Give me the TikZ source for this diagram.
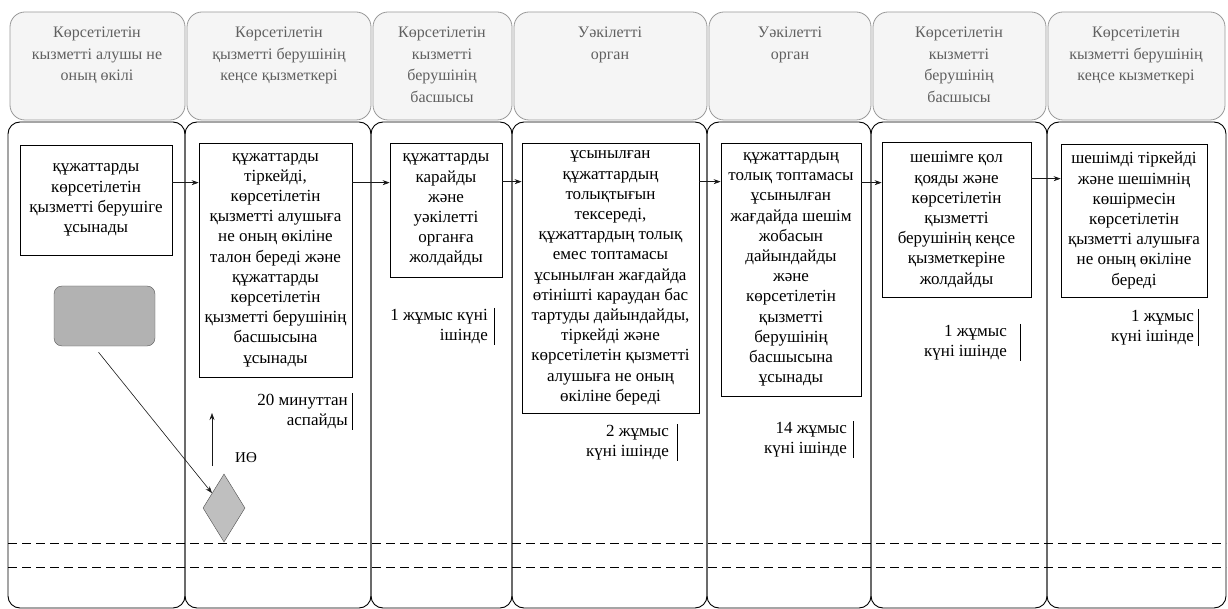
\documentclass[tikz,border=0pt]{standalone}
\usepackage{fontspec}
\setmainfont{Liberation Serif}
\usetikzlibrary{shapes.geometric,arrows.meta}

\tikzset{
  lane/.style={draw, rounded corners=12pt, line width=0.9pt},
  headbox/.style={draw=gray!80, fill=gray!8, rounded corners=15pt, line width=0.8pt},
  headtext/.style={align=center, text=gray!75!black, font=\fontsize{16}{21.5}\selectfont, anchor=north, inner sep=0pt},
  stepbox/.style={draw, line width=0.7pt, align=center, font=\fontsize{17}{20.2}\selectfont, inner sep=2pt},
  timenote/.style={align=right, font=\fontsize{17}{20}\selectfont, anchor=north east, inner sep=1pt},
  flow/.style={-{Stealth[length=7pt,width=5pt]}, line width=0.6pt, gray!20!black},
  sep/.style={dash pattern=on 9pt off 5pt, line width=0.7pt}
}

\begin{document}
\begin{tikzpicture}[x=1pt,y=-1pt]
\useasboundingbox (0,0) rectangle (1228,609);

\draw[headbox] (10,12) rectangle (185,120);
\draw[headbox] (187,12) rectangle (371,120);
\draw[headbox] (373,12) rectangle (512,120);
\draw[headbox] (514,12) rectangle (707,120);
\draw[headbox] (709,12) rectangle (871,120);
\draw[headbox] (873,12) rectangle (1046,120);
\draw[headbox] (1048,12) rectangle (1225,120);

\node[headtext] (h1) at (97,27) {Көрсетілетін\\кызметті алушы не\\оның өкілі};
\node[headtext] (h2) at (279,27) {Көрсетілетін\\қызметті берушінің\\кеңсе қызметкері};
\node[headtext] (h3) at (442,27) {Көрсетілетін\\кызметті\\берушінің\\басшысы};
\node[headtext] (h4) at (610,27) {Уәкілетті\\орган};
\node[headtext] (h5) at (790,27) {Уәкілетті\\орган};
\node[headtext] (h6) at (959,27) {Көрсетілетін\\кызметті\\берушінің\\басшысы};
\node[headtext] (h7) at (1136,27) {Көрсетілетін\\кызметті берушінің\\кеңсе кызметкері};

\draw[lane] (8,122) rectangle (185,608);
\draw[lane] (185,122) rectangle (371,608);
\draw[lane] (371,122) rectangle (512,608);
\draw[lane] (512,122) rectangle (707,608);
\draw[lane] (707,122) rectangle (871,608);
\draw[lane] (871,122) rectangle (1047,608);
\draw[lane] (1047,122) rectangle (1226,608);

\draw[sep] (8,543) -- (1226,543);
\draw[sep] (8,567) -- (1226,567);

\node[stepbox, minimum width=152pt, minimum height=110pt] (b1) at (96,200)
  {құжаттарды\\көрсетілетін\\қызметті берушіге\\ұсынады};
\node[stepbox, minimum width=153pt, minimum height=234pt] (b2) at (275.5,260)
  {құжаттарды\\тіркейді,\\көрсетілетін\\қызметті алушыға\\не оның өкіліне\\талон береді және\\құжаттарды\\көрсетілетін\\қызметті берушінің\\басшысына\\ұсынады};
\node[stepbox, minimum width=112pt, minimum height=134pt] (b3) at (446,210)
  {құжаттарды\\карайды\\және\\уәкілетті\\органға\\жолдайды};
\node[stepbox, minimum width=177pt, minimum height=270pt] (b4) at (610.5,278)
  {ұсынылған\\құжаттардың\\толықтығын\\тексереді,\\құжаттардың толық\\емес топтамасы\\ұсынылған жағдайда\\өтінішті караудан бас\\тартуды дайындайды,\\тіркейді және\\көрсетілетін қызметті\\алушыға не оның\\өкіліне береді};
\node[stepbox, minimum width=140pt, minimum height=253pt] (b5) at (791,269.5)
  {құжаттардың\\толық топтамасы\\ұсынылған\\жағдайда шешім\\жобасын\\дайындайды\\және\\көрсетілетін\\қызметті\\берушінің\\басшысына\\ұсынады};
\node[stepbox, minimum width=149pt, minimum height=155pt] (b6) at (956.5,219.5)
  {шешімге қол\\қояды және\\көрсетілетін\\қызметті\\берушінің кеңсе\\қызметкеріне\\жолдайды};
\node[stepbox, minimum width=146pt, minimum height=153pt] (b7) at (1134,220.5)
  {шешімді тіркейді\\және шешімнің\\көшірмесін\\көрсетілетін\\қызметті алушыға\\не оның өкіліне\\береді};

\draw[flow] ([yshift=-38pt]b1.north east) -- ([yshift=-38pt]b1.north east -| b2.west);
\draw[flow] ([yshift=-40pt]b2.north east) -- ([yshift=-40pt]b2.north east -| b3.west);
\draw[flow] ([yshift=-39pt]b3.north east) -- ([yshift=-39pt]b3.north east -| b4.west);
\draw[flow] ([yshift=-39pt]b4.north east) -- ([yshift=-39pt]b4.north east -| b5.west);
\draw[flow] ([yshift=-40pt]b5.north east) -- ([yshift=-40pt]b5.north east -| b6.west);
\draw[flow] ([yshift=-37pt]b6.north east) -- ([yshift=-37pt]b6.north east -| b7.west);

\node[timenote] (t2) at (349,393) {20 минуттан\\аспайды};
\node[timenote] (t3) at (489,308) {1 жұмыс күні\\ішінде};
\node[timenote] (t4) at (670,424) {2 жұмыс\\күні ішінде};
\node[timenote] (t5) at (848,421) {14 жұмыс\\күні ішінде};
\node[timenote] (t6) at (1008,324) {1 жұмыс\\күні ішінде};
\node[timenote] (t7) at (1195,309) {1 жұмыс\\күні ішінде};
\draw ([xshift=3pt]t2.north east) -- ([xshift=3pt]t2.south east);
\draw ([xshift=5pt]t3.north east) -- ([xshift=5pt]t3.south east);
\draw ([xshift=7pt]t4.north east) -- ([xshift=7pt]t4.south east);
\draw ([xshift=5pt]t5.north east) -- ([xshift=5pt]t5.south east);
\draw ([xshift=12pt]t6.north east) -- ([xshift=12pt]t6.south east);
\draw ([xshift=3pt]t7.north east) -- ([xshift=3pt]t7.south east);

\node[draw=gray!70!black, fill=gray!60, rounded corners=8pt, minimum width=101pt, minimum height=60pt] (g) at (104.5,316) {};
\node[diamond, draw=gray!60!black, fill=gray!50, minimum width=42pt, minimum height=68pt, inner sep=0pt] (d) at (224,508) {};
\draw[flow] ([xshift=-6pt,yshift=-6pt]g.south) -- (d);

\coordinate (ieA) at (212,466);
\coordinate (ieB) at (212,413);
\draw[flow] (ieA) -- (ieB);
\node[font=\fontsize{15}{18}\selectfont] (ie) at (246,458) {ИӨ};
\end{tikzpicture}
\end{document}
